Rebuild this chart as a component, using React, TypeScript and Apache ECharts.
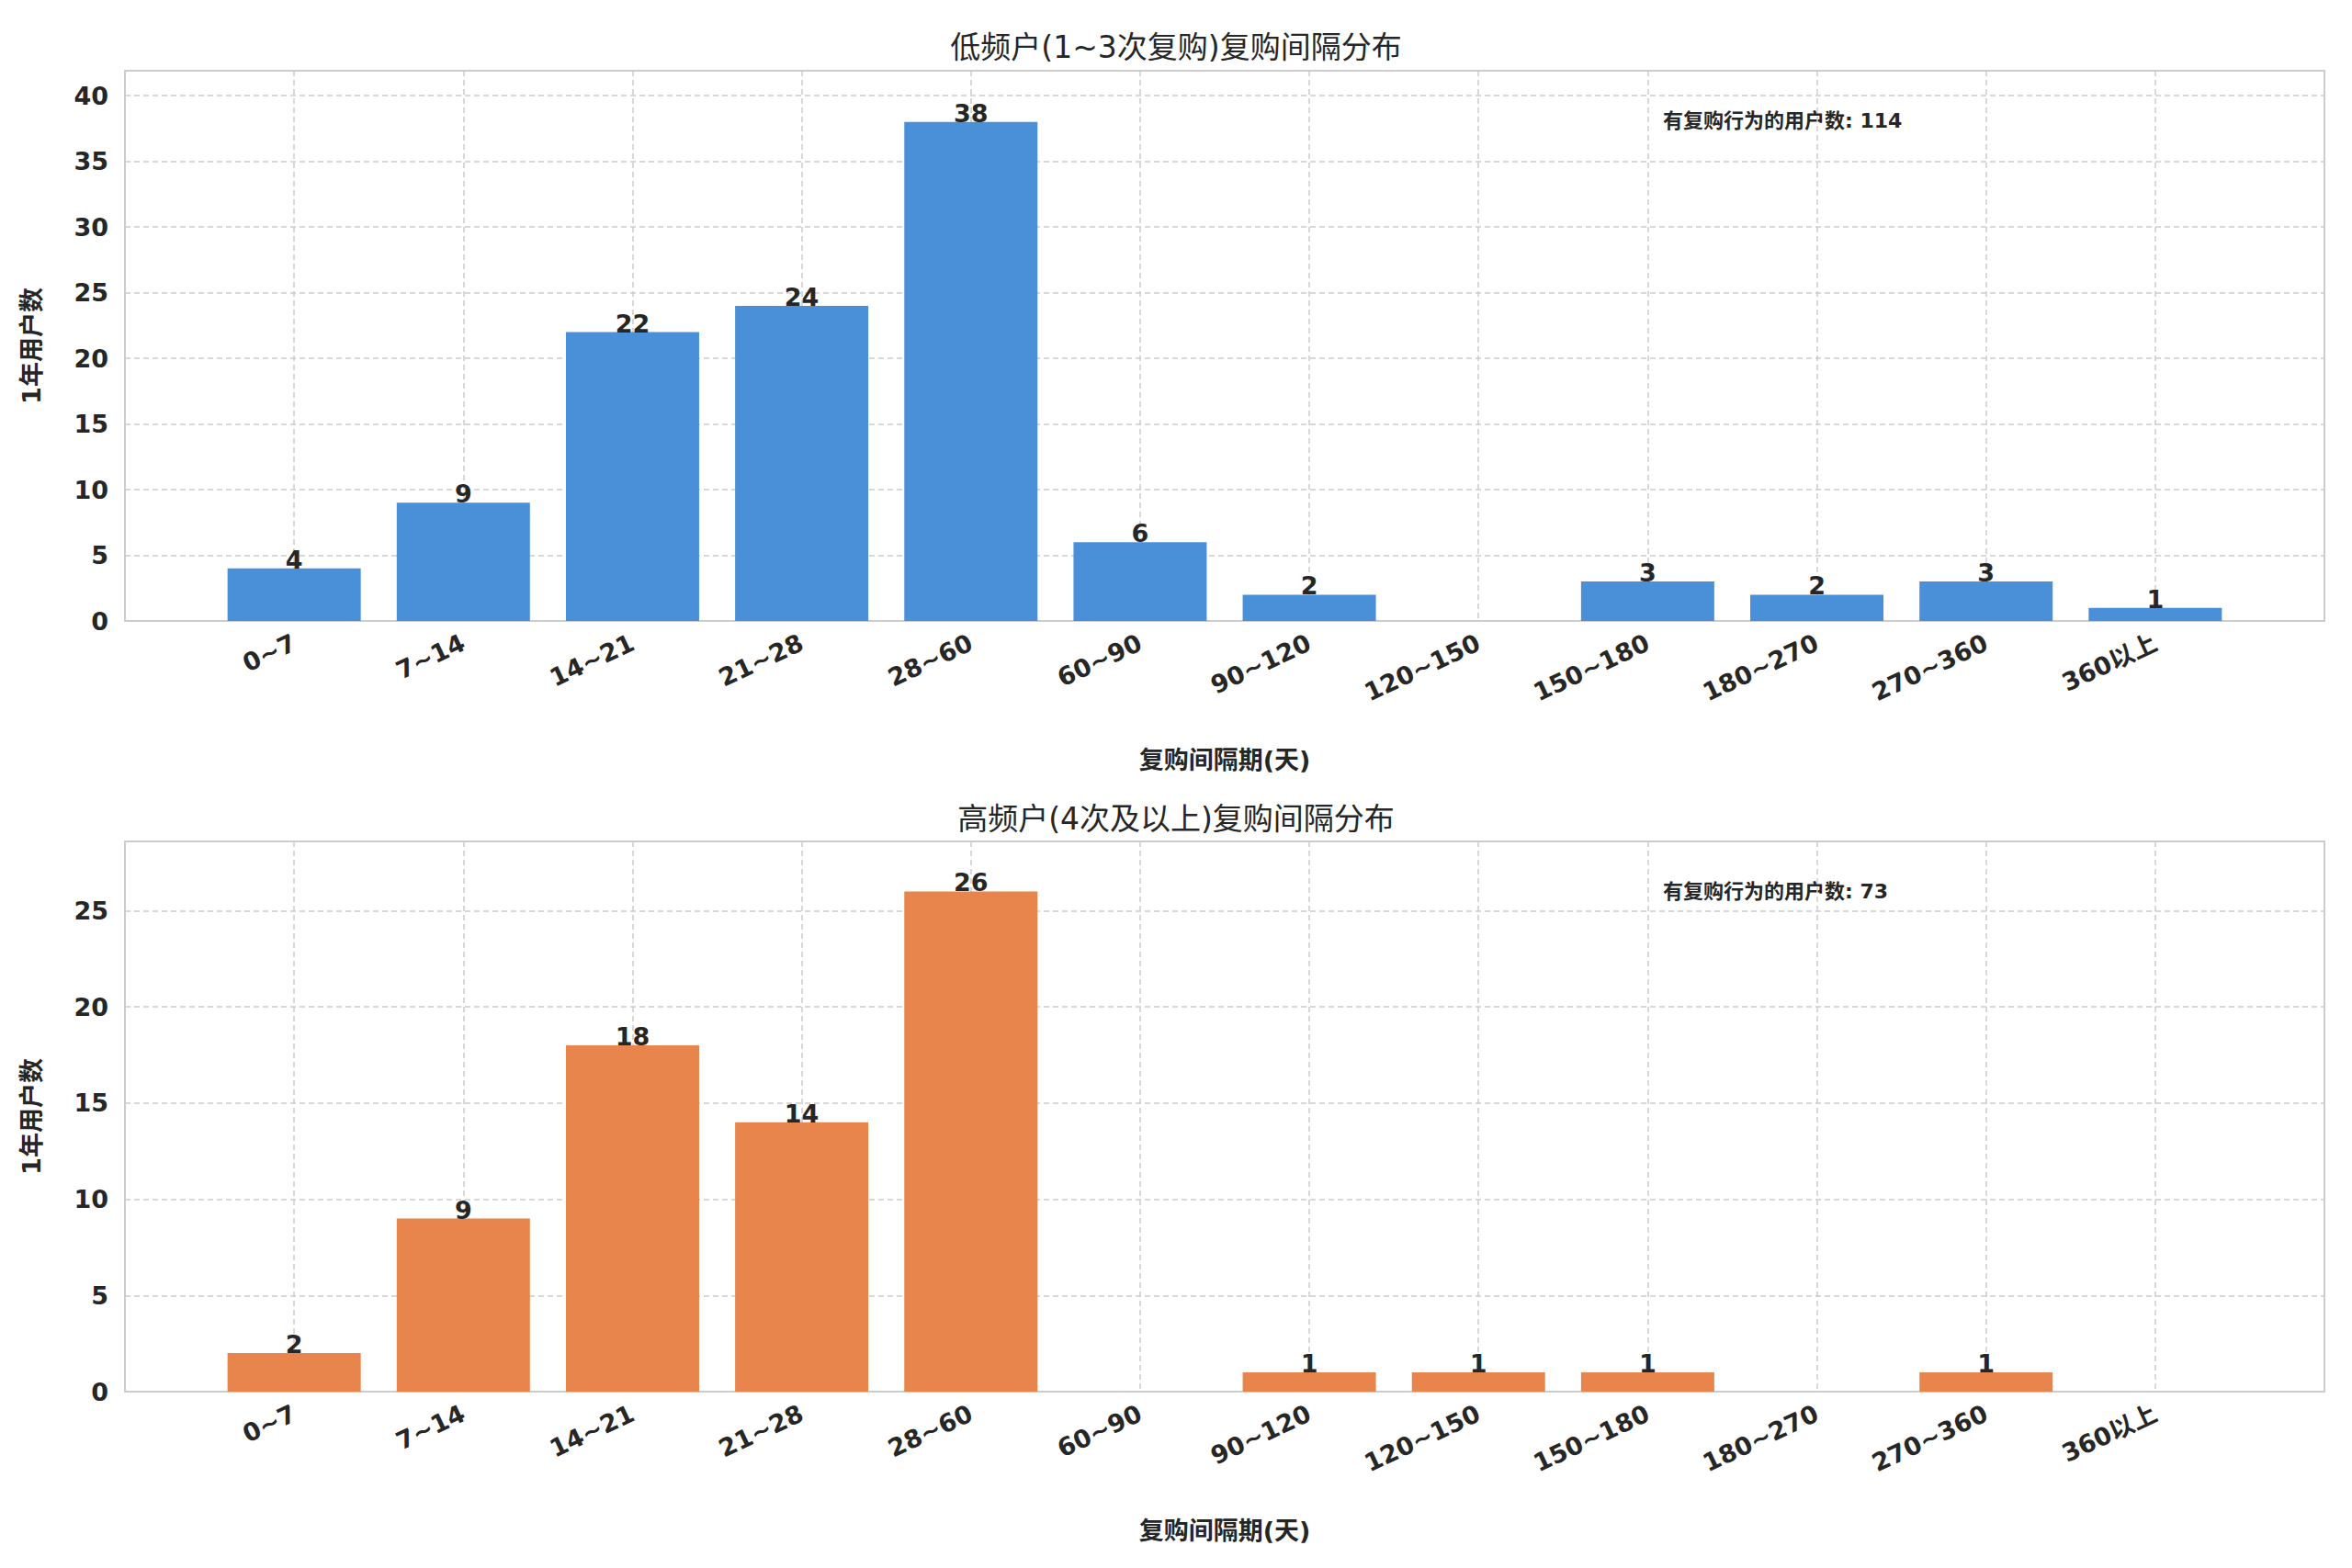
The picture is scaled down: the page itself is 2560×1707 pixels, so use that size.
import React, { useEffect, useRef } from "react";
import * as echarts from "echarts";

const categories = ["", "0~7", "7~14", "14~21", "21~28", "28~60", "60~90", "90~120", "120~150", "150~180", "180~270", "270~360", "360以上", ""];
const lowValues = [null, 4, 9, 22, 24, 38, 6, 2, 0, 3, 2, 3, 1, null];
const highValues = [null, 2, 9, 18, 14, 26, 0, 1, 1, 1, 0, 1, 0, null];
const lowTotal = 114;
const highTotal = 73;

const FONT = "DejaVu Sans, Noto Sans CJK SC, sans-serif";

const App: React.FC = () => {
  const chartRef = useRef<HTMLDivElement>(null);

  useEffect(() => {
    if (!chartRef.current) return;
    const chart = echarts.init(chartRef.current, undefined, { renderer: "svg" });

    const grids = [
      { left: 128, right: 22, top: 69, height: 599 },
      { left: 128, right: 22, top: 908, height: 599 },
    ];
    const dashed = { show: true, lineStyle: { color: "#cccccc", type: [6, 4], width: 1.5 } };
    const xAxis = (gridIndex: number) => ({
      type: "category",
      gridIndex,
      data: categories,
      boundaryGap: false,
      name: "复购间隔期(天)",
      nameLocation: "middle",
      nameGap: 138,
      nameTextStyle: { fontSize: 27, fontWeight: "bold", color: "#262626", fontFamily: FONT },
      axisLine: { show: true, lineStyle: { color: "#cccccc", width: 2 } },
      axisTick: { show: false },
      splitLine: dashed,
      axisLabel: {
        interval: 0,
        rotate: 25,
        fontSize: 27,
        fontWeight: "bold",
        color: "#262626",
        fontFamily: FONT,
        margin: 22,
      },
    });
    const yAxis = (gridIndex: number, max: number) => ({
      type: "value",
      gridIndex,
      min: 0,
      max,
      interval: 5,
      name: "1年用户数",
      nameLocation: "middle",
      nameGap: 88,
      nameTextStyle: { fontSize: 27, fontWeight: "bold", color: "#262626", fontFamily: FONT },
      axisLine: { show: true, lineStyle: { color: "#cccccc", width: 2 } },
      axisTick: { show: false },
      splitLine: dashed,
      axisLabel: {
        showMaxLabel: false,
        fontSize: 27,
        fontWeight: "bold",
        color: "#262626",
        fontFamily: FONT,
        margin: 18,
      },
    });
    const barSeries = (idx: number, data: (number | null)[], color: string) => ({
      type: "bar",
      xAxisIndex: idx,
      yAxisIndex: idx,
      data: data.map((v) => (v === null || v === 0 ? null : v)),
      barWidth: 145,
      itemStyle: { color },
      label: {
        show: true,
        position: "top",
        distance: -4,
        fontSize: 27,
        fontWeight: "bold",
        color: "#262626",
        fontFamily: FONT,
      },
    });

    chart.setOption({
      animation: false,
      backgroundColor: "#ffffff",
      title: [
        {
          text: "低频户(1~3次复购)复购间隔分布",
          left: "center",
          top: 22,
          textStyle: { fontSize: 33, fontWeight: "normal", color: "#262626", fontFamily: FONT },
        },
        {
          text: "高频户(4次及以上)复购间隔分布",
          left: "center",
          top: 862,
          textStyle: { fontSize: 33, fontWeight: "normal", color: "#262626", fontFamily: FONT },
        },
      ],
      grid: grids.map((g) => ({ ...g, show: true, borderColor: "#cccccc", borderWidth: 2 })),
      xAxis: [xAxis(0), xAxis(1)],
      yAxis: [yAxis(0, 41.9), yAxis(1, 28.6)],
      series: [barSeries(0, lowValues, "#4a90d9"), barSeries(1, highValues, "#e8854c")],
      graphic: [
        {
          type: "text",
          left: 1802,
          top: 112,
          style: { text: `有复购行为的用户数: ${lowTotal}`, fontSize: 22, fontWeight: "bold", fill: "#262626", fontFamily: FONT },
        },
        {
          type: "text",
          left: 1802,
          top: 951,
          style: { text: `有复购行为的用户数: ${highTotal}`, fontSize: 22, fontWeight: "bold", fill: "#262626", fontFamily: FONT },
        },
      ],
    });

    return () => {
      chart.dispose();
    };
  }, []);

  return <div ref={chartRef} style={{ width: 2544, height: 1691 }} />;
};

export default App;
